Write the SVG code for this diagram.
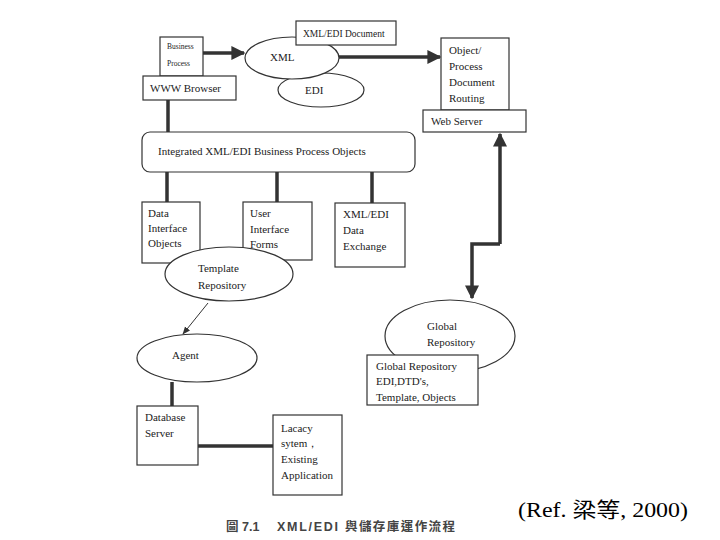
<svg xmlns="http://www.w3.org/2000/svg" width="720" height="540" viewBox="0 0 720 540">
<style>
.b{fill:#fff;stroke:#333;stroke-width:1.2}
.t{font-family:"Liberation Serif","Times New Roman",serif;font-size:11px;fill:#222}
.th{fill:none;stroke:#333;stroke-width:3.5}
.tn{fill:none;stroke:#333;stroke-width:1}
.cap{font-family:"Liberation Sans","Noto Sans CJK TC",sans-serif;font-size:12.5px;font-weight:bold;fill:#444}
</style>
<defs>
<marker id="ah" viewBox="0 0 10 10" refX="9" refY="5" markerWidth="4" markerHeight="4" orient="auto"><path d="M0,0L10,5L0,10z" fill="#333"/></marker>
<marker id="as" viewBox="0 0 10 10" refX="9" refY="5" markerWidth="8" markerHeight="8" orient="auto"><path d="M0,1L10,5L0,9z" fill="#333"/></marker>
</defs>
<rect width="720" height="540" fill="#fff"/>
<g id="connectors">
<path class="th" d="M203,53H244" marker-end="url(#ah)"/>
<path class="th" d="M339,57H440" marker-end="url(#ah)"/>
<path class="th" d="M168,100V132"/>
<path class="th" d="M167,172V202M277,172V202M372,172V203"/>
<path class="th" d="M500,244V134" marker-end="url(#ah)"/>
<path class="th" d="M500,244H472V298" marker-end="url(#ah)"/>
<path class="tn" d="M208,303L183,334" marker-end="url(#as)"/>
<path class="th" d="M172,382V406"/>
<path class="th" d="M198,446H273"/>
</g>
<g id="business-process"><rect class="b" x="160" y="37" width="43" height="39"/><text class="t" x="167" y="49" style="font-size:7.5px">Business</text><text class="t" x="167" y="66" style="font-size:7.5px">Process</text></g>
<g id="www-browser"><rect class="b" x="143" y="76" width="93" height="24"/><text class="t" x="150" y="92">WWW Browser</text></g>
<g id="edi"><ellipse class="b" cx="321" cy="90" rx="43" ry="17"/><text class="t" x="305" y="94">EDI</text></g>
<g id="xml"><ellipse class="b" cx="292" cy="58" rx="47" ry="21"/><text class="t" x="270" y="61">XML</text></g>
<g id="xml-edi-document"><rect class="b" x="296" y="21" width="100" height="24"/><text class="t" x="303" y="37" style="font-size:9.5px">XML/EDI Document</text></g>
<g id="object-routing"><rect class="b" x="441" y="38" width="68" height="72"/><text class="t" x="449" y="54">Object/</text><text class="t" x="449" y="70">Process</text><text class="t" x="449" y="86">Document</text><text class="t" x="449" y="102">Routing</text></g>
<g id="web-server"><rect class="b" x="423" y="110" width="103" height="22"/><text class="t" x="431" y="125">Web Server</text></g>
<g id="integrated"><rect class="b" x="142" y="132" width="273" height="40" rx="8"/><text class="t" x="158" y="155">Integrated XML/EDI Business Process Objects</text></g>
<g id="data-interface"><rect class="b" x="142" y="202" width="58" height="61"/><text class="t" x="148" y="217">Data</text><text class="t" x="148" y="232">Interface</text><text class="t" x="148" y="247">Objects</text></g>
<g id="user-interface"><rect class="b" x="243" y="202" width="69" height="58"/><text class="t" x="250" y="217">User</text><text class="t" x="250" y="233">Interface</text><text class="t" x="250" y="248">Forms</text></g>
<g id="xml-edi-exchange"><rect class="b" x="335" y="203" width="70" height="64"/><text class="t" x="343" y="218">XML/EDI</text><text class="t" x="343" y="234">Data</text><text class="t" x="343" y="250">Exchange</text></g>
<g id="template-repository"><ellipse class="b" cx="229" cy="274" rx="64" ry="27"/><text class="t" x="198" y="272">Template</text><text class="t" x="198" y="289">Repository</text></g>
<g id="agent"><ellipse class="b" cx="197" cy="358" rx="60" ry="24"/><text class="t" x="172" y="359">Agent</text></g>
<g id="database-server"><rect class="b" x="137" y="406" width="61" height="59"/><text class="t" x="145" y="421">Database</text><text class="t" x="145" y="437">Server</text></g>
<g id="legacy"><rect class="b" x="273" y="415" width="69" height="80"/><text class="t" x="281" y="432">Lacacy</text><text class="t" x="281" y="447">sytem，</text><text class="t" x="281" y="463">Existing</text><text class="t" x="281" y="479">Application</text></g>
<g id="global-repository"><ellipse class="b" cx="450" cy="336" rx="65" ry="36"/><text class="t" x="427" y="330">Global</text><text class="t" x="427" y="346">Repository</text></g>
<g id="global-repository-box"><rect class="b" x="367" y="355" width="111" height="50"/><text class="t" x="376" y="370">Global Repository</text><text class="t" x="376" y="385">EDI,DTD's,</text><text class="t" x="376" y="401">Template, Objects</text></g>
<text class="cap" y="531"><tspan x="226">圖</tspan><tspan x="242">7.1</tspan><tspan x="277" textLength="61" lengthAdjust="spacing">XML/EDI</tspan><tspan x="345" textLength="110" lengthAdjust="spacing">與儲存庫運作流程</tspan></text>
<text x="518" y="517" textLength="170" lengthAdjust="spacingAndGlyphs" style="font-family:'Liberation Serif','Noto Sans CJK TC',serif;font-size:21px;fill:#000">(Ref. 梁等, 2000)</text>
</svg>
